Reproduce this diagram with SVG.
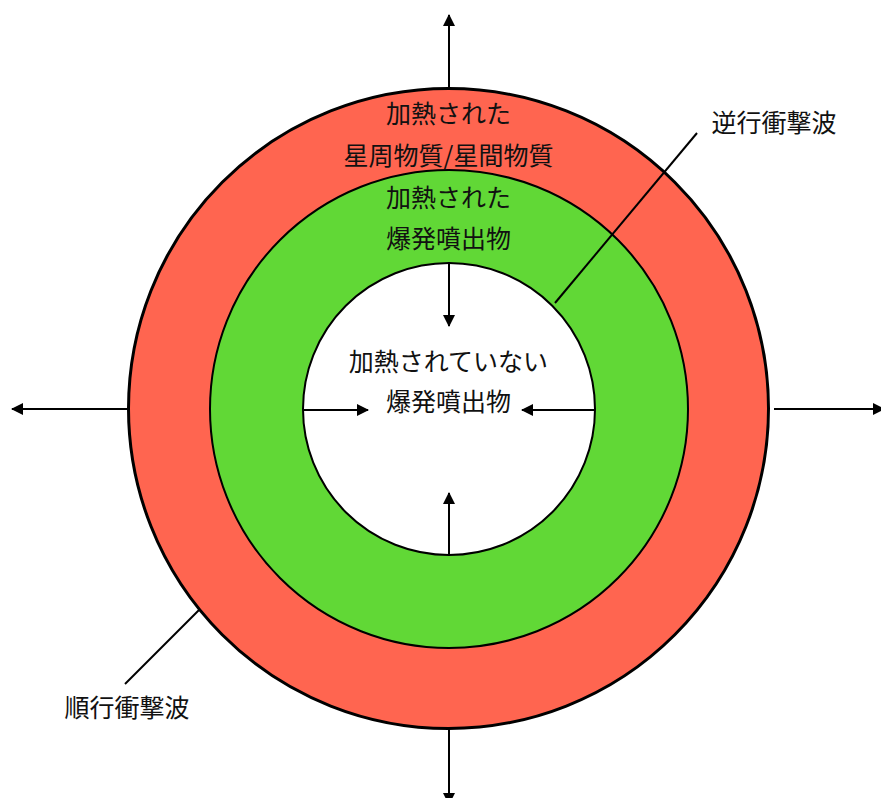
<svg xmlns="http://www.w3.org/2000/svg" width="881" height="798" viewBox="0 0 881 798">
<defs>
<marker id="ah" viewBox="0 0 12 12" refX="11" refY="6" markerWidth="12" markerHeight="12" markerUnits="userSpaceOnUse" orient="auto">
<path d="M0,0 L12,6 L0,12 Z" fill="#000"/>
</marker>
</defs>
<style>
text{font-family:"Noto Sans CJK JP","Noto Sans CJK SC",sans-serif;font-size:25px;fill:#111;text-anchor:middle}
.ar{stroke:#000;stroke-width:2;fill:none;marker-end:url(#ah)}
.ln{stroke:#000;stroke-width:2;fill:none}
</style>
<g id="outer">
<circle cx="448.5" cy="408.5" r="320" fill="#FF6550" stroke="#000" stroke-width="3"/>
<text x="448.5" y="123">加熱された</text>
<text x="448.5" y="165">星周物質/星間物質</text>
</g>
<g id="middle">
<circle cx="449" cy="409" r="239" fill="#61D836" stroke="#000" stroke-width="2"/>
<text x="448.5" y="207">加熱された</text>
<text x="448.5" y="248">爆発噴出物</text>
</g>
<g id="inner">
<circle cx="449" cy="409" r="146" fill="#fff" stroke="#000" stroke-width="2"/>
<text x="448.5" y="371">加熱されていない</text>
<text x="448.5" y="411">爆発噴出物</text>
</g>
<g id="connectors">
<line class="ar" x1="449" y1="89" x2="449" y2="15"/>
<line class="ar" x1="449" y1="728" x2="449" y2="804"/>
<line class="ar" x1="127" y1="409" x2="12" y2="409"/>
<line class="ar" x1="774" y1="409" x2="884" y2="409"/>
<line class="ar" x1="449" y1="263" x2="449" y2="326"/>
<line class="ar" x1="449" y1="555" x2="449" y2="493"/>
<line class="ar" x1="303" y1="410" x2="368" y2="410"/>
<line class="ar" x1="595" y1="410" x2="522" y2="410"/>
<line class="ln" x1="697" y1="133" x2="555" y2="303"/>
<line class="ln" x1="125" y1="684" x2="199" y2="610"/>
</g>
<g id="label-reverse">
<text x="774" y="132">逆行衝撃波</text>
</g>
<g id="label-forward">
<text x="127" y="717">順行衝撃波</text>
</g>
</svg>
